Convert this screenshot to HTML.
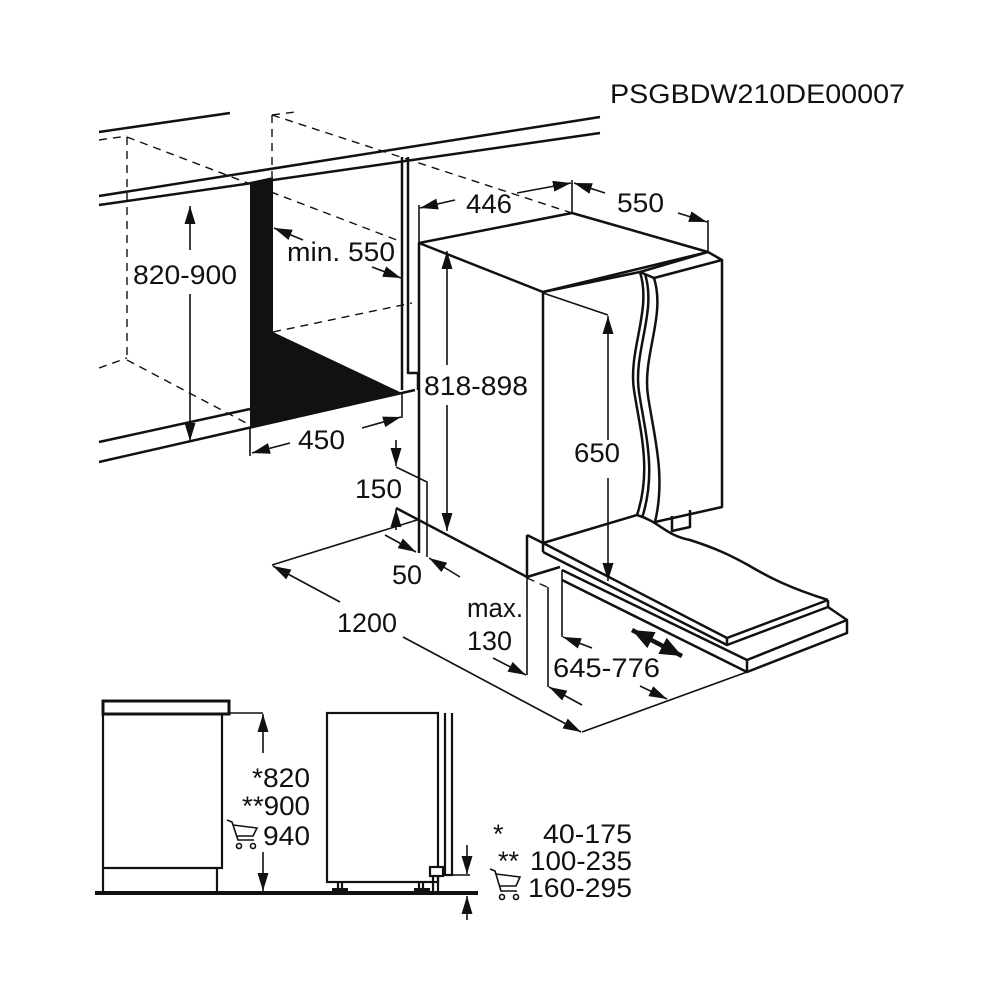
<!DOCTYPE html>
<html><head><meta charset="utf-8"><style>
html,body{margin:0;padding:0;background:#fff}
svg{display:block}
text{font-family:"Liberation Sans",Arial,sans-serif;fill:#111;font-size:27px}
</style></head><body>
<svg width="1000" height="1000" viewBox="0 0 1000 1000" xmlns="http://www.w3.org/2000/svg">
<defs>
<marker id="a" markerUnits="userSpaceOnUse" markerWidth="20" markerHeight="14" refX="18" refY="5.5" orient="auto"><path d="M0,0 L18,5.5 L0,11 z" fill="#111"/></marker>
<marker id="b" markerUnits="userSpaceOnUse" markerWidth="24" markerHeight="20" refX="22" refY="9" orient="auto-start-reverse"><path d="M0,0 L22,9 L0,18 z" fill="#111"/></marker>
</defs>
<rect width="1000" height="1000" fill="#fff"/>
<text x="610" y="103" textLength="295" lengthAdjust="spacingAndGlyphs" font-size="26">PSGBDW210DE00007</text>

<g stroke="#111" stroke-width="1.4" fill="none" stroke-dasharray="8,6">
<path d="M99,140 L127,136"/><path d="M127,137 L402,242"/><path d="M272,115 L572,213"/><path d="M272,115 L295,112"/>
<path d="M127,137 L127,358"/><path d="M272,115 L272,177"/><path d="M99,368 L127,358"/><path d="M127,360 L250,425"/>
<path d="M273,332 L412,303"/><path d="M527,578 L547,587"/>
</g>

<g stroke="#111" stroke-width="2.5" fill="none" stroke-linejoin="round">
<path d="M99,132 L230,113"/>
<path d="M99,196 L600,117"/><path d="M99,205 L600,133"/>
<path d="M99,442 L250,409"/><path d="M99,462 L415,390"/>
<path d="M402,157 L402,390"/><path d="M408,157 L408,373 L418,373 L418,390"/>
</g>
<polygon points="250,182 273,177 273,332 402,393 250,428" fill="#111"/>

<g stroke="#111" stroke-width="2.5" fill="none" stroke-linejoin="round">
<polygon points="419,243 572,213 708,252 543,292" fill="#fff"/>
<path d="M543,292 L640,272"/>
<polygon points="640,272 708,252 722,260 654,278" fill="#fff"/>
<path d="M722,260 L722,507 L655,522"/>
<path d="M640,272 C652,310 628,350 634,390 C640,430 652,470 637,515"/>
<path d="M645,274 C657,312 633,352 639,392 C645,432 657,472 642,518"/>
<path d="M654,278 C666,316 642,356 648,396 C654,436 666,476 655,522"/>
<path d="M543,292 L543,552"/><path d="M543,543 L637,515"/>
<path d="M672,516 L672,531 L690,527 L690,510"/>
<path d="M419,243 L419,553"/>
<path d="M396,508 L527,577"/>
<path d="M543,543 L727,638 L828,600"/><path d="M543,552 L727,645 L828,607 L828,600"/><path d="M727,638 L727,645"/>
<path d="M637,515 C660,522 665,535 690,540 C715,548 730,555 748,565 C770,578 790,588 828,600"/>
<path d="M562,570 L747,660 L847,620 L847,633 L747,672 L562,580"/><path d="M747,660 L747,672"/><path d="M828,607 L847,620"/>
<path d="M527,535 L527,577 L560,567"/><path d="M527,535 L543,543"/>
</g>

<g stroke="#111" stroke-width="1.6" fill="none">
<path d="M190,250 L190,206" marker-end="url(#a)"/><path d="M190,294 L190,441" marker-end="url(#a)"/>
<path d="M303,240 L274,228" marker-end="url(#a)"/><path d="M372,267 L401,278" marker-end="url(#a)"/>
<path d="M250,428 L250,456"/><path d="M402,393 L402,418"/>
<path d="M290,443 L252,453" marker-end="url(#a)"/><path d="M362,428 L401,417" marker-end="url(#a)"/>
<path d="M419,205 L419,243"/><path d="M455,200 L420,208" marker-end="url(#a)"/>
<path d="M517,193 L571,183" marker-end="url(#a)"/><path d="M572,180 L572,213"/>
<path d="M605,193 L574,183" marker-end="url(#a)"/><path d="M678,213 L707,222" marker-end="url(#a)"/><path d="M708,220 L708,252"/>
<path d="M447,365 L447,251" marker-end="url(#a)"/><path d="M447,405 L447,531" marker-end="url(#a)"/>
<path d="M543,293 L608,315"/>
<path d="M608,440 L608,316" marker-end="url(#a)"/><path d="M608,478 L608,581" marker-end="url(#a)"/>
<path d="M396,440 L396,466" marker-end="url(#a)"/><path d="M396,467 L427,482 L427,557"/>
<path d="M396,530 L396,509" marker-end="url(#a)"/>
<path d="M272,565 L417,520"/>
<path d="M340,602 L273,566" marker-end="url(#a)"/><path d="M403,637 L581,732" marker-end="url(#a)"/>
<path d="M582,732 L747,672"/>
<path d="M385,535 L416,552" marker-end="url(#a)"/><path d="M460,577 L429,558" marker-end="url(#a)"/>
<path d="M527,577 L527,675"/><path d="M493,658 L526,675" marker-end="url(#a)"/>
<path d="M548,587 L548,687"/><path d="M582,705 L549,687" marker-end="url(#a)"/>
<path d="M562,570 L562,637"/><path d="M592,648 L563,637" marker-end="url(#a)"/>
<path d="M640,686 L667,699" marker-end="url(#a)"/>
</g>
<path d="M632,630 L682,656" stroke="#111" stroke-width="4.5" marker-start="url(#b)" marker-end="url(#b)"/>

<text x="133" y="284" textLength="104" lengthAdjust="spacingAndGlyphs">820-900</text>
<text x="287" y="261" textLength="108" lengthAdjust="spacingAndGlyphs">min. 550</text>
<text x="298" y="449" textLength="47" lengthAdjust="spacingAndGlyphs">450</text>
<text x="466" y="213" textLength="46" lengthAdjust="spacingAndGlyphs">446</text>
<text x="617" y="212" textLength="47" lengthAdjust="spacingAndGlyphs">550</text>
<text x="424" y="395" textLength="104" lengthAdjust="spacingAndGlyphs">818-898</text>
<text x="574" y="462" textLength="46" lengthAdjust="spacingAndGlyphs">650</text>
<text x="355" y="498" textLength="47" lengthAdjust="spacingAndGlyphs">150</text>
<text x="392" y="584" textLength="30" lengthAdjust="spacingAndGlyphs">50</text>
<text x="337" y="632" textLength="60" lengthAdjust="spacingAndGlyphs">1200</text>
<text x="467" y="617" textLength="56" lengthAdjust="spacingAndGlyphs">max.</text>
<text x="467" y="650" textLength="45" lengthAdjust="spacingAndGlyphs">130</text>
<text x="553" y="677" textLength="107" lengthAdjust="spacingAndGlyphs">645-776</text>

<g stroke="#111" stroke-width="2.2" fill="none">
<rect x="103" y="701" width="126" height="13" stroke-width="3"/>
<path d="M103,715 L103,893"/><path d="M222,715 L222,868 L103,868"/><path d="M217,868 L217,893"/>
<rect x="327" y="713" width="111" height="169" fill="#fff"/>
<path d="M445,713 L445,875"/><path d="M452,713 L452,875 L438,875"/>
<rect x="430" y="867" width="13" height="9" fill="#fff"/>
<path d="M338,882 L338,890"/><path d="M342,882 L342,890"/><path d="M419,882 L419,890"/><path d="M423,882 L423,890"/>
<path d="M433,876 L433,893"/><path d="M438,876 L438,893"/>
</g>
<rect x="332" y="888" width="16" height="5" fill="#111"/><rect x="414" y="888" width="16" height="5" fill="#111"/>
<rect x="95" y="891" width="383" height="4" fill="#111"/>
<g stroke="#111" stroke-width="1.6" fill="none">
<path d="M230,713 L263,713"/>
<path d="M263,753 L263,714" marker-end="url(#a)"/><path d="M263,852 L263,891" marker-end="url(#a)"/>
<path d="M452,875 L470,875"/>
<path d="M467,845 L467,874" marker-end="url(#a)"/><path d="M467,920 L467,896" marker-end="url(#a)"/>
</g>
<text x="310" y="787" text-anchor="end" textLength="58" lengthAdjust="spacingAndGlyphs">*820</text>
<text x="310" y="815" text-anchor="end" textLength="68" lengthAdjust="spacingAndGlyphs">**900</text>
<text x="263" y="845" textLength="47" lengthAdjust="spacingAndGlyphs">940</text>
<g stroke="#111" stroke-width="1.6" fill="none">
<path d="M227,820 L232,822 L238,840 L254,840 M233,825 L257,828 L253,836 L237,836"/>
<circle cx="239" cy="846" r="2.5"/><circle cx="253" cy="846" r="2.5"/>
<path d="M490,869 L495,871 L501,891 L517,891 M496,874 L520,877 L516,886 L500,886"/>
<circle cx="502" cy="897" r="2.5"/><circle cx="516" cy="897" r="2.5"/>
</g>
<text x="493" y="843" font-size="22">*</text>
<text x="632" y="843" text-anchor="end" textLength="89" lengthAdjust="spacingAndGlyphs">40-175</text>
<text x="498" y="870" font-size="22">**</text>
<text x="632" y="870" text-anchor="end" textLength="102" lengthAdjust="spacingAndGlyphs">100-235</text>
<text x="632" y="897" text-anchor="end" textLength="104" lengthAdjust="spacingAndGlyphs">160-295</text>
</svg>
</body></html>
